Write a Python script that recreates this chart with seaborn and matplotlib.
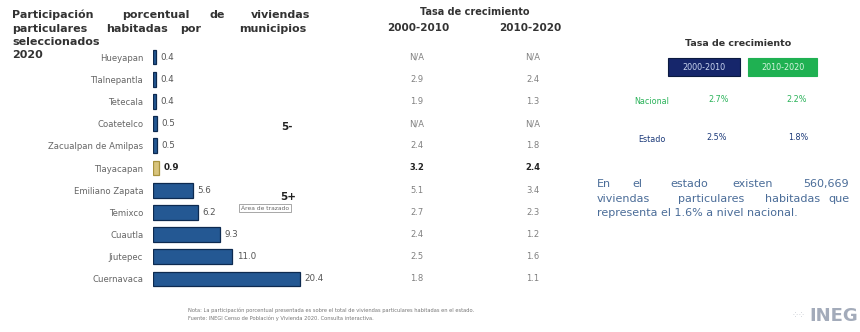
import matplotlib
matplotlib.use("Agg")
import pandas as pd
import seaborn as sns
import matplotlib.pyplot as plt
from matplotlib.transforms import blended_transform_factory
from matplotlib.patches import Rectangle

# Data
municipios = ["Hueyapan", "Tlalnepantla", "Tetecala", "Coatetelco",
              "Zacualpan de Amilpas", "Tlayacapan", "Emiliano Zapata",
              "Temixco", "Cuautla", "Jiutepec", "Cuernavaca"]
participacion = [0.4, 0.4, 0.4, 0.5, 0.5, 0.9, 5.6, 6.2, 9.3, 11.0, 20.4]
tasa_2000_2010 = ["N/A", "2.9", "1.9", "N/A", "2.4", "3.2", "5.1", "2.7", "2.4", "2.5", "1.8"]
tasa_2010_2020 = ["N/A", "2.4", "1.3", "N/A", "1.8", "2.4", "3.4", "2.3", "1.2", "1.6", "1.1"]
destacado = "Tlayacapan"

periodos = ["2000-2010", "2010-2020"]
nacional = ["2.7%", "2.2%"]
estado = ["2.5%", "1.8%"]

df = pd.DataFrame({"municipio": municipios, "pct": participacion})
colores = ["#d8c47c" if m == destacado else "#245893" for m in municipios]

sns.set_style("white")
plt.rcParams["font.family"] = ["DejaVu Sans"]

W, H = 860, 332
fig = plt.figure(figsize=(W / 100, H / 100), dpi=100)

def fx(px):
    return px / W

def fy(py):
    return 1 - py / H

# bar axes: rows from y=46 to y=290 px, x from 153 px
ax = fig.add_axes([fx(153), fy(290), fx(173), (290 - 46) / H])
sns.barplot(data=df, x="pct", y="municipio", hue="municipio", order=municipios,
            hue_order=municipios, palette=colores, saturation=1, dodge=False,
            width=0.66, legend=False, ax=ax, edgecolor="#0d2a50", linewidth=0.9)
for bar, m in zip(ax.patches, municipios):
    if m == destacado:
        bar.set_edgecolor("#a8933e")

ax.set_xlim(0, 24)
ax.set_xlabel("")
ax.set_ylabel("")
ax.set_xticks([])
sns.despine(ax=ax, left=True, bottom=True)
ax.tick_params(axis="y", length=0, pad=7, labelsize=6.1, labelcolor="#666666")

for i, (m, v) in enumerate(zip(municipios, participacion)):
    bold = m == destacado
    ax.text(v + 0.6, i, f"{v:.1f}", va="center", ha="left", fontsize=6.3,
            color="#222222" if bold else "#555555",
            fontweight="bold" if bold else "normal")

# growth table aligned with the rows
tr = blended_transform_factory(fig.transFigure, ax.transData)
for i, (a, b) in enumerate(zip(tasa_2000_2010, tasa_2010_2020)):
    bold = municipios[i] == destacado
    kw = dict(transform=tr, ha="center", va="center", fontsize=6,
              color="#222222" if bold else "#808080",
              fontweight="bold" if bold else "normal")
    ax.text(fx(417), i, a, **kw)
    ax.text(fx(533), i, b, **kw)

fig.text(fx(475), fy(12), "Tasa de crecimiento", ha="center", va="center",
         fontsize=7, fontweight="bold", color="#333333")
fig.text(fx(418), fy(28), periodos[0], ha="center", va="center",
         fontsize=7.5, fontweight="bold", color="#333333")
fig.text(fx(530), fy(28), periodos[1], ha="center", va="center",
         fontsize=7.5, fontweight="bold", color="#333333")

# title, justified by hand
title_lines = [
    (15, [("Participación", 12), ("porcentual", 122), ("de", 209), ("viviendas", 251)]),
    (29, [("particulares", 12), ("habitadas", 106), ("por", 180), ("municipios", 239)]),
    (42, [("seleccionados", 12)]),
    (55, [("2020", 12)]),
]
for y, words in title_lines:
    for w, x in words:
        fig.text(fx(x), fy(y), w, ha="left", va="center", fontsize=8,
                 fontweight="bold", color="#333333")

# chart artefacts visible in the screenshot
fig.text(fx(281), fy(127), "5-", ha="left", va="center", fontsize=7.5,
         fontweight="bold", color="#222222")
fig.text(fx(280), fy(197), "5+", ha="left", va="center", fontsize=7.5,
         fontweight="bold", color="#222222")
fig.text(fx(241), fy(208), "Área de trazado", ha="left", va="center",
         fontsize=4.3, color="#666666",
         bbox=dict(boxstyle="square,pad=0.3", fc="white", ec="#999999", lw=0.6))

# right panel
fig.text(fx(738), fy(44), "Tasa de crecimiento", ha="center", va="center",
         fontsize=6.8, fontweight="bold", color="#333333")
box_x = [(668, 740), (748, 817)]
box_fc = ["#16266b", "#1fb152"]
box_ec = ["#0b1a40", "#1fb152"]
box_tc = ["#c8d4f0", "#d6f5df"]
for (x0, x1), fc, ec, tc, lbl in zip(box_x, box_fc, box_ec, box_tc, periodos):
    fig.patches.append(Rectangle((fx(x0), fy(76)), fx(x1 - x0), (76 - 58) / H,
                                 transform=fig.transFigure, fc=fc, ec=ec, lw=0.8))
    fig.text(fx((x0 + x1) / 2), fy(67), lbl, ha="center", va="center",
             fontsize=5.8, color=tc)

fig.text(fx(652), fy(101), "Nacional", ha="center", va="center", fontsize=5.8,
         color="#2bb35a")
fig.text(fx(652), fy(139), "Estado", ha="center", va="center", fontsize=5.8,
         color="#1d3b7a")
for x, v in zip([719, 797], nacional):
    fig.text(fx(x), fy(100), v, ha="center", va="center", fontsize=5.8,
             color="#2bb35a")
for x, v in zip([717, 798], estado):
    fig.text(fx(x), fy(137), v, ha="center", va="center", fontsize=5.8,
             color="#1d3b7a")

para = [
    (184, [("En", 597), ("el", 632), ("estado", 670), ("existen", 732), ("560,669", 803)]),
    (199, [("viviendas", 597), ("particulares", 678), ("habitadas", 765), ("que", 828)]),
    (213, [("representa el 1.6% a nivel nacional.", 597)]),
]
for y, words in para:
    for w, x in words:
        fig.text(fx(x), fy(y), w, ha="left", va="center", fontsize=8,
                 color="#4a6c98")

# footer
fig.text(fx(188), fy(310), "Nota: La participación porcentual presentada es sobre el total de viviendas "
         "particulares habitadas en el estado.", ha="left", va="center",
         fontsize=3.7, color="#777777")
fig.text(fx(188), fy(318), "Fuente: INEGI Censo de Población y Vivienda 2020. Consulta interactiva.",
         ha="left", va="center", fontsize=3.7, color="#777777")
fig.text(fx(858), fy(316), "INEG", ha="right", va="center", fontsize=13,
         fontweight="bold", color="#a3abba")
fig.text(fx(806), fy(316), "⁘⁘", ha="right", va="center", fontsize=6,
         color="#c0c4cc")

fig.savefig("out.png", dpi=100)
